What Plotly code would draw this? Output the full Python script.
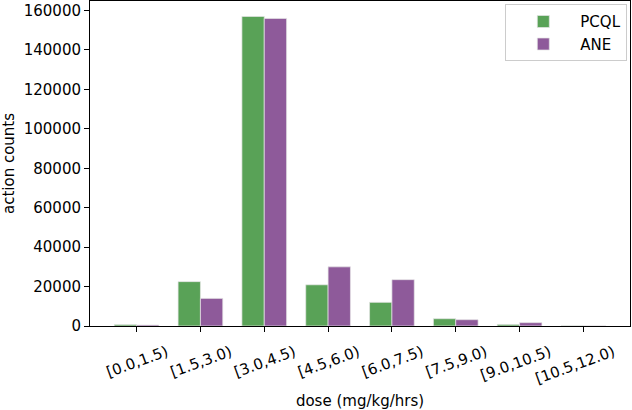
import plotly.graph_objects as go

categories = ["[0.0,1.5)", "[1.5,3.0)", "[3.0,4.5)", "[4.5,6.0)",
              "[6.0,7.5)", "[7.5,9.0)", "[9.0,10.5)", "[10.5,12.0)"]
pcql = [700, 22500, 157000, 20900, 12000, 3700, 800, 100]
ane = [500, 14000, 156000, 30000, 23500, 3200, 1700, 50]
y_ticks = [0, 20000, 40000, 60000, 80000, 100000, 120000, 140000, 160000]

FONT = "DejaVu Sans"
green = "#59a257"
purple = "#8e5a9a"
edge = "rgba(230,230,230,0.7)"

fig = go.Figure()
fig.add_trace(go.Bar(x=categories, y=pcql, name="PCQL", marker_color=green,
                     marker_line=dict(color=edge, width=1), offsetgroup=0))
fig.add_trace(go.Bar(x=categories, y=ane, name="ANE", marker_color=purple,
                     marker_line=dict(color=edge, width=1), offsetgroup=1))

fig.update_layout(
    width=632, height=410,
    margin=dict(l=90, r=2, t=1, b=84, autoexpand=False),
    plot_bgcolor="white", paper_bgcolor="white",
    font=dict(family=FONT, size=15, color="black"),
    bargap=0.3, bargroupgap=0,
    showlegend=True,
    legend=dict(x=0.995, y=0.99, xanchor="right", yanchor="top",
                bordercolor="#cccccc", borderwidth=1, bgcolor="white",
                font=dict(size=15), itemwidth=64,
                tracegroupgap=2),
    xaxis=dict(
        title=dict(text="dose (mg/kg/hrs)", font=dict(size=15)),
        automargin=False,
        tickangle=-20, ticks="outside", ticklen=5, tickcolor="black",
        ticklabelshift=30, ticklabelstandoff=6,
        showline=True, linecolor="black", linewidth=1, mirror=True,
        showgrid=False, range=[-0.73, 7.73],
    ),
    yaxis=dict(
        title=dict(text="action counts", font=dict(size=15)),
        automargin=False,
        tickvals=y_ticks, ticktext=[str(v) for v in y_ticks],
        ticks="outside", ticklen=5, tickcolor="black",
        showline=True, linecolor="black", linewidth=1, mirror=True,
        showgrid=False, zeroline=False, range=[0, 164850],
    ),
)

fig.write_html("out.html", config={"displayModeBar": False},
               post_script="document.body.style.margin='0';")
